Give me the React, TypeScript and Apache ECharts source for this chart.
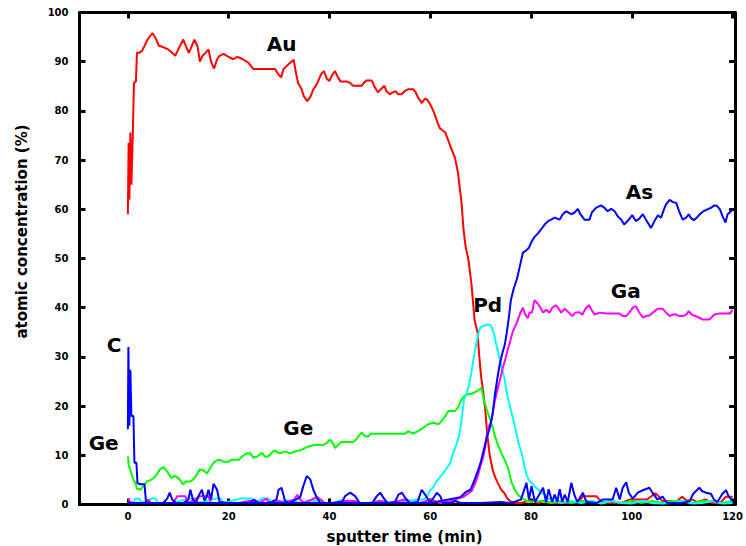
import React, { useEffect, useRef } from "react";
import * as echarts from "echarts";

type P = [number, number];

const X_TICKS = [0, 20, 40, 60, 80, 100, 120];
const X_TITLE = "sputter time (min)";
const Y_TITLE = "atomic concentration (%)";

const AU: P[] = [
  [0, 59], [0.15, 73.5], [0.3, 62], [0.5, 75.6], [0.7, 65], [1.0, 76], [1.2, 85.7], [1.6, 86], [1.8, 91.8], [2.2, 91.8],
  [2.8, 92.2], [3.3, 93.2], [3.9, 94.5], [4.4, 95.2], [4.9, 95.8], [5.5, 94.8], [6.1, 93.3], [6.9, 93], [8, 92.5], [8.8, 91.8],
  [9.4, 91.2], [10, 92.5], [10.5, 93.5], [11, 94.5], [11.5, 93.2], [12.1, 91.8], [12.7, 93.2], [13.2, 94.5], [13.8, 93.2], [14.3, 90],
  [14.8, 91.2], [15.4, 91.8], [16, 92.5], [16.5, 90], [17.1, 88.6], [17.7, 90.5], [18.2, 91.2], [19, 91.6], [20.1, 90.9], [20.9, 90.5],
  [21.7, 91], [22.8, 90.5], [23.9, 89.8], [24.9, 88.5], [25.6, 88.5], [27, 88.5], [29.2, 88.5], [29.9, 87.4], [30.4, 86.8], [30.9, 88.5],
  [31.5, 89.1], [32.2, 89.8], [32.9, 90.4], [33.4, 87.5], [33.8, 85.6], [34.5, 84.4], [34.9, 83], [35.6, 82], [36.3, 83], [36.8, 84.4],
  [37.3, 85.1], [37.8, 86.1], [38.3, 87.4], [38.9, 88.1], [39.5, 86.5], [40, 86.1], [40.6, 87.4], [41.1, 88.1], [41.6, 87], [42.2, 86],
  [43.4, 86], [44.1, 85.7], [44.7, 85.1], [46.4, 85.1], [46.8, 85.7], [47.4, 86.2], [48.4, 86.2], [48.9, 85], [49.6, 83.8], [50.2, 84.4],
  [50.9, 85.1], [51.3, 84], [52, 83.4], [52.5, 83.7], [53.1, 84], [53.6, 83.4], [54.3, 83.4], [54.9, 84], [55.6, 84.4], [56.6, 84.4],
  [57.1, 83.8], [57.6, 82.7], [58.3, 81.6], [58.9, 82.4], [59.3, 82.4], [59.8, 81.7], [60.4, 80.5], [60.9, 79.3], [61.4, 77.7], [61.9, 76.5],
  [62.5, 76], [63, 75.6], [63.5, 74.2], [64.2, 72.3], [64.9, 70.5], [65.5, 67.5], [66.2, 61.5], [66.6, 56], [67, 52.6], [67.6, 49.6],
  [68.2, 44.7], [68.8, 37.5], [69.4, 34.9], [69.7, 30.5], [70.1, 26], [70.5, 23], [70.9, 19.5], [71.3, 14.5], [71.8, 10], [72.4, 7],
  [72.9, 5.5], [73.4, 4.4], [74.1, 3], [74.8, 2.2], [75.3, 1.2], [76, 0.6], [77, 0.3], [78, 0.3], [79.5, 0.7], [80.5, 0.7],
  [81.5, 0.3], [82.5, 0.7], [84, 0.3], [86, 0.3], [88, 0.3], [89.5, 0.5], [90.3, 1.7], [91.5, 1.7], [93, 1.7], [94, 0.5],
  [96, 0.3], [98, 0.3], [99.5, 1], [101, 1], [103, 1], [104.7, 2.3], [105.4, 1.6], [106, 0.7], [107.5, 0.7], [109, 0.7],
  [110, 1.6], [111, 0.7], [112, 1], [113, 0.5], [114.7, 1], [116, 0.3], [117.5, 0.3], [118.7, 1.6], [120, 1.6],
];

const GE: P[] = [
  [0, 9.8], [0.2, 7.8], [0.5, 7], [0.8, 6.1], [1.1, 5], [1.5, 4.4], [1.8, 3.2], [2.5, 3], [3.3, 4], [3.8, 4.7],
  [4.8, 5.1], [5.7, 6], [6.3, 7.1], [7.1, 7.6], [7.9, 6.6], [8.6, 5.4], [9.4, 5.8], [10.3, 5.1], [10.9, 4.1], [11.6, 4.7],
  [12.4, 4.7], [13.1, 5.2], [13.7, 6.1], [14.2, 7.1], [14.9, 7], [15.7, 6.3], [16.4, 7.5], [17, 8.5], [17.7, 9], [18.2, 9.1],
  [19, 8.7], [20, 8.7], [20.6, 9.1], [22, 9.1], [22.6, 9.7], [23.6, 10.4], [24.3, 10.4], [24.9, 9.5], [25.6, 9.7], [26.6, 10.5],
  [27.2, 9.7], [27.9, 9.8], [28.8, 10.8], [29.2, 11], [29.9, 10.5], [30.2, 10.4], [31.2, 10.8], [32.2, 10.4], [33.2, 10.8], [34.2, 11],
  [35.2, 11.5], [36.2, 11.9], [37.1, 12.1], [38.8, 12.1], [39.5, 12.5], [40.1, 13.2], [40.7, 12.5], [41.1, 11.5], [41.8, 12.2], [42.4, 12.7],
  [44.7, 12.7], [45.3, 13.2], [45.7, 13.8], [46.4, 14.6], [47, 13.9], [47.7, 13.8], [48.2, 14.4], [55, 14.4], [55.6, 14.9], [56.6, 14.4],
  [57.6, 14.9], [58.6, 15.6], [59.6, 16.3], [60.6, 16.6], [61.6, 16.3], [62.2, 16.9], [62.9, 17.8], [63.6, 19], [64.9, 19], [65.5, 19.7],
  [66.2, 21.3], [66.9, 22.2], [67.5, 22.4], [68.5, 22.6], [69.5, 23.2], [70.2, 23.7], [70.6, 21.5], [71.2, 19.3], [71.8, 17.5], [72.3, 16],
  [72.8, 14], [73.4, 12.2], [74.1, 10.5], [75, 8.6], [75.6, 6.8], [76.1, 4.6], [76.8, 3], [77.4, 2], [78.1, 1.4], [79, 0.8],
  [80, 0.5], [82, 0.7], [84, 0.3], [86, 0.7], [88, 0.3], [90, 0.7], [92, 0.7], [94, 0.3], [96, 0.7], [98, 0.3],
  [100, 0.7], [102, 0.3], [104, 0.7], [106, 0.3], [108, 0.7], [110, 0.7], [112, 0.3], [114, 0.7], [116, 0.7], [118, 0.3], [120, 0.7],
];

const PD: P[] = [
  [0, 0.3], [1, 0.3], [1.5, 1.2], [2.2, 1.2], [2.8, 0.3], [4.8, 1.2], [5.5, 1.2], [6, 0.3], [9, 0.3], [11.8, 1.2],
  [13.4, 1.2], [14, 0.3], [17.4, 1.2], [18.4, 1.2], [19, 0.3], [22.3, 1.2], [24.6, 1.2], [25.2, 0.3], [26.6, 1.2], [27.9, 1.2],
  [28.5, 0.3], [30, 0.3], [31, 0.8], [33, 0.8], [34, 0.3], [36, 0.8], [38, 0.8], [39, 0.3], [41, 0.3], [42, 0.8],
  [44, 0.8], [45, 0.3], [48, 0.3], [50, 0.8], [52, 0.3], [54, 0.3], [55, 0.8], [56.5, 0.8], [57.5, 1], [58.5, 1],
  [59.3, 1.4], [59.9, 2.8], [60.6, 3.5], [61.2, 4.6], [61.9, 5.5], [62.9, 6.8], [63.9, 8.3], [64.5, 10.3], [65.2, 12.2], [65.7, 13.8],
  [66.2, 17], [66.7, 21.4], [67.2, 22.5], [67.7, 24.2], [68.2, 27], [68.8, 30.8], [69.5, 34.6], [69.9, 35.9], [70.5, 36.3], [71.5, 36.6],
  [72.1, 36.3], [72.6, 34.9], [73.1, 32.5], [73.6, 30.5], [74.1, 28.1], [74.8, 25.4], [75.2, 22.7], [75.8, 20], [76.3, 18], [76.8, 15.9],
  [77.2, 13.9], [77.7, 11.9], [78.3, 9.8], [78.7, 7.8], [79.2, 5.8], [79.7, 4.8], [80.4, 4.1], [81, 3.4], [81.8, 2.7], [82.7, 2],
  [83.5, 1.2], [84.5, 0.7], [86, 0.3], [88, 0.7], [90, 0.3], [92, 0.7], [94, 0.2], [96, 0.7], [98, 0.3], [100, 0.2],
  [102, 0.7], [104, 0.3], [106, 0.2], [108, 0.3], [110, 0.7], [112, 0.2], [114, 0.3], [116, 0.7], [118, 0.2], [120, 0.3],
];

const GA: P[] = [
  [0, 1.2], [0.5, 0.5], [1, 0.3], [3.5, 0.3], [4, 1], [4.6, 0.3], [9, 0.3], [9.8, 1.7], [11.4, 1.7], [12, 0.3],
  [14.4, 1.7], [16, 1.7], [16.5, 0.3], [18, 0.3], [20, 0.3], [22, 0.3], [24, 0.7], [26, 0.3], [27.5, 1.2], [28, 0.3],
  [30, 0.7], [31, 0.3], [33, 1], [33.6, 2], [34.2, 1], [35, 0.3], [37.5, 1.5], [38.3, 1], [39, 0.3], [41, 0.3],
  [43, 0.7], [45, 0.7], [46, 0.3], [48, 0.3], [50, 0.7], [52, 0.3], [55, 1], [56, 0.3], [58, 0.3], [60, 1],
  [62, 0.3], [64, 0.7], [65.5, 1.2], [66.5, 1.5], [67.2, 2], [68.2, 2.7], [68.8, 4], [69.5, 6], [70, 8], [70.5, 9.5],
  [70.9, 11.5], [71.2, 14], [71.7, 16], [72.1, 16.8], [72.8, 21], [73.5, 24], [74, 26], [74.4, 27.8], [74.9, 29.5], [75.4, 31.5],
  [75.9, 33.3], [76.4, 35.2], [77, 36.5], [77.4, 37.5], [77.9, 39], [78.4, 40], [78.9, 38.5], [79.4, 37.9], [79.7, 39], [80.2, 39],
  [80.7, 41.5], [81.2, 41], [81.7, 40.3], [82.4, 39], [83, 39.6], [83.7, 39], [84.2, 40], [84.9, 40.5], [85.5, 39.8], [86, 39],
  [86.7, 39.8], [87.5, 39], [88.2, 38.3], [88.8, 39], [89.5, 39.1], [90.2, 38.6], [90.8, 39.8], [91.5, 40.5], [92, 39.6], [92.6, 38.6],
  [93.6, 39], [95, 38.8], [97.6, 38.8], [98.2, 38.3], [98.9, 38.3], [99.5, 39], [100.2, 40], [100.8, 40.3], [101.5, 39], [102.2, 38],
  [102.8, 38.3], [103.5, 38.4], [104.5, 39.3], [105.2, 39.8], [106.1, 39.8], [106.8, 39], [107.5, 38.3], [108.1, 38.6], [108.8, 38.6], [109.4, 38.3],
  [110.1, 38.3], [110.8, 38.6], [111.3, 39.3], [112, 38.5], [112.7, 38.3], [114.1, 37.6], [115.4, 37.6], [116.4, 38.6], [117.4, 38.8], [119.5, 38.8],
  [120, 39.6],
];

const C: P[] = [
  [0, 15.3], [0.1, 32], [0.3, 16], [0.5, 27.4], [0.7, 18], [1.1, 18], [1.3, 8.5], [1.7, 8.5], [1.9, 4.4], [2.4, 4.1],
  [3.3, 4.1], [3.6, 0.5], [4.5, 0.3], [7, 0.3], [7.8, 1.2], [8.3, 2.4], [8.8, 1], [9.5, 0.3], [11, 0.3], [12, 1],
  [12.4, 3], [12.9, 1], [13.5, 0.3], [14, 1.7], [14.7, 3], [15.2, 0.8], [15.6, 1.5], [16, 3], [16.5, 1], [17, 4.2],
  [17.7, 3], [18.2, 0.5], [20, 0.3], [24, 0.3], [25, 1], [26, 0.3], [28, 0.3], [29.5, 1], [29.9, 3], [30.5, 3.4],
  [31.2, 0.7], [32, 0.3], [34.2, 1.5], [34.8, 3.7], [35.5, 5.8], [36.2, 5.1], [36.8, 3], [37.5, 1.4], [38.2, 0.3], [40, 0.3],
  [42.5, 0.5], [43.1, 1.7], [44.1, 2.4], [45.1, 1.7], [46, 0.3], [48.5, 0.3], [49.4, 1.7], [50.1, 2.4], [50.7, 1.4], [51.5, 0.3],
  [53, 0.5], [53.7, 2], [54.4, 2.4], [55, 1.4], [56, 0.3], [57.5, 0.5], [58.3, 3], [59, 2], [60, 0.3], [61.3, 2.4],
  [62, 1.7], [62.5, 0.3], [64, 0.3], [65, 0.7], [66, 0.3], [70, 0.3], [74, 0.5], [76, 0.3], [78, 1], [79.1, 4.4],
  [79.6, 1], [80.1, 3.7], [80.8, 0.5], [82.4, 3.4], [83, 0.5], [83.5, 3.1], [84.2, 0.5], [84.7, 2], [85.2, 0.5], [85.7, 3.1],
  [86.2, 0.5], [86.7, 2], [87.3, 0.5], [88, 4.4], [88.6, 2], [89.2, 0.5], [90.3, 2.4], [91, 0.5], [93, 0.3], [94.2, 1],
  [96.2, 1], [96.9, 3.4], [97.6, 1], [98.2, 3.4], [98.9, 4.5], [99.4, 2.4], [100.2, 1.2], [101.2, 2.4], [102.2, 2.9], [103.5, 3.4],
  [104.1, 2.4], [105.1, 1], [106.1, 1.6], [107, 0.3], [110, 0.3], [111.5, 0.7], [112.2, 2.2], [113.4, 3.4], [114, 2.7], [114.7, 2.4],
  [115.7, 2.2], [116.3, 1], [117, 0.5], [118, 2.2], [118.7, 2.9], [119.2, 1.7], [120, 0.7],
];

const AS: P[] = [
  [0, 0.3], [20, 0.3], [40, 0.3], [60, 0.3], [66, 1.5], [67, 2.5], [68, 3], [68.8, 5], [69.5, 7], [70, 8.5],
  [70.6, 11], [71.2, 13.5], [71.8, 15.5], [72.4, 18.5], [72.8, 22], [73.3, 25.5], [73.8, 28.5], [74.2, 30.3], [74.8, 32.5], [75.2, 35],
  [75.6, 38], [76, 41.5], [76.6, 44], [77.2, 45.8], [77.8, 48.5], [78.4, 51.2], [79, 51.6], [79.6, 52.2], [80.1, 53.4], [80.7, 54.4],
  [81.3, 55], [82, 55.9], [82.7, 56.9], [83.4, 57.6], [84, 57.9], [84.7, 58.3], [85.7, 57.9], [86.3, 59], [87, 59.6], [88, 59],
  [88.6, 59.3], [89.3, 60.1], [89.8, 59], [90.6, 57.9], [91.6, 57.9], [92.1, 59.4], [92.9, 60.3], [93.9, 60.8], [94.6, 60.3], [95.2, 59.6],
  [95.9, 60.1], [96.6, 59.6], [97.2, 58.6], [97.9, 57.9], [98.5, 56.9], [99.4, 57.9], [100.1, 58.8], [100.8, 57.6], [101.5, 58.1], [102.2, 59],
  [102.8, 57.9], [103.4, 56.9], [103.8, 56.2], [104.5, 57.6], [105.2, 58.8], [105.8, 58.3], [106.5, 60.3], [106.8, 61], [107.5, 61.9], [108.1, 61.5],
  [108.8, 61.3], [109.4, 59.6], [110.1, 57.9], [110.8, 58.3], [111.3, 59], [111.7, 58.3], [112.3, 57.8], [112.9, 58.3], [113.5, 59], [114.2, 59.6],
  [115, 60], [115.7, 60.3], [116.4, 60.8], [116.9, 60.7], [117.5, 60], [118, 58.6], [118.6, 57.3], [119, 59], [119.7, 59.6], [120, 60],
];

// series labels placed in data coordinates: [x, y, text]
const LABELS: [number, number, string][] = [
  [30.5, 93.6, "Au"],
  [101.5, 63.5, "As"],
  [98.8, 43.4, "Ga"],
  [71.4, 40.6, "Pd"],
  [-2.75, 32.4, "C"],
  [-4.8, 12.6, "Ge"],
  [33.8, 15.5, "Ge"],
];

const FONT = "DejaVu Sans, sans-serif";

export default function App() {
  const ref = useRef<HTMLDivElement>(null);
  useEffect(() => {
    if (!ref.current) return;
    const chart = echarts.init(ref.current, undefined, { renderer: "svg" });
    const axisLine = { show: true, onZero: false, lineStyle: { color: "#000", width: 3 } };
    const tick = { show: true, inside: true, length: 6, lineStyle: { color: "#000", width: 3 } };
    const xBase = {
      type: "value" as const,
      min: -9.6,
      max: 120.5,
      splitLine: { show: false },
      axisLine,
    };
    const yBase = {
      type: "value" as const,
      min: 0,
      max: 100,
      interval: 10,
      splitLine: { show: false },
      axisLine,
      axisTick: tick,
    };
    const line = (name: string, data: P[], color: string) => ({
      name,
      type: "line",
      data,
      showSymbol: false,
      symbol: "none",
      lineStyle: { color, width: 2 },
      itemStyle: { color },
    });
    chart.setOption({
      animation: false,
      backgroundColor: "#fff",
      grid: { left: 79.5, right: 9, top: 12.5, bottom: 41.5, containLabel: false },
      xAxis: [
        {
          ...xBase,
          position: "bottom",
          axisTick: { ...tick, customValues: X_TICKS },
          axisLabel: {
            customValues: X_TICKS,
            margin: 7,
            fontSize: 10,
            fontWeight: "bold",
            fontFamily: FONT,
            color: "#000",
          },
        },
        {
          ...xBase,
          position: "top",
          axisTick: { ...tick, customValues: X_TICKS },
          axisLabel: { show: false, customValues: X_TICKS },
        },
      ],
      yAxis: [
        {
          ...yBase,
          position: "left",
          axisLabel: { margin: 11, fontSize: 10, fontWeight: "bold", fontFamily: FONT, color: "#000" },
        },
        { ...yBase, position: "right", axisLabel: { show: false } },
      ],
      series: [
        line("Au", AU, "#ff0000"),
        line("Ge", GE, "#00ff00"),
        line("Pd", PD, "#00ffff"),
        line("Ga", GA, "#ff00ff"),
        line("C", C, "#0000ff"),
        line("As", AS, "#0000ff"),
        {
          type: "scatter",
          data: LABELS,
          symbolSize: 1,
          itemStyle: { color: "#fff", opacity: 0 },
          label: {
            show: true,
            position: "inside",
            formatter: (p: any) => p.data[2],
            fontSize: 20,
            fontWeight: "bold",
            fontFamily: FONT,
            color: "#000",
            opacity: 1,
            textBorderWidth: 0,
          },
          z: 10,
        },
      ],
      graphic: [
        {
          type: "text",
          x: 404.5,
          y: 537,
          style: {
            text: X_TITLE,
            fontSize: 15,
            fontWeight: "bold",
            fontFamily: FONT,
            fill: "#000",
            align: "center",
            verticalAlign: "middle",
          },
        },
        {
          type: "text",
          x: 22,
          y: 231.5,
          rotation: Math.PI / 2,
          style: {
            text: Y_TITLE,
            fontSize: 15,
            fontWeight: "bold",
            fontFamily: FONT,
            fill: "#000",
            align: "center",
            verticalAlign: "middle",
          },
        },
      ],
    });
    return () => chart.dispose();
  }, []);
  return (
    <div
      ref={ref}
      style={{ position: "fixed", left: 0, top: 0, width: 746, height: 546, background: "#fff" }}
    />
  );
}
